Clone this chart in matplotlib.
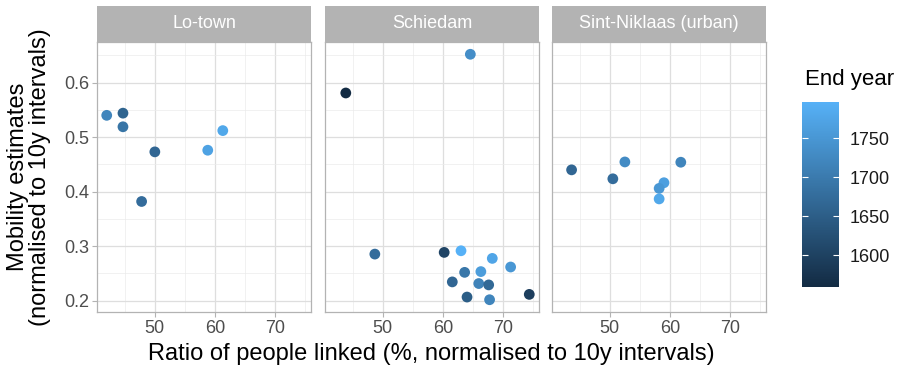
import matplotlib
matplotlib.use("Agg")
import matplotlib.pyplot as plt
import numpy as np
from matplotlib.colors import LinearSegmentedColormap, Normalize
from matplotlib.cm import ScalarMappable

plt.rcParams['font.family'] = ['Liberation Sans', 'DejaVu Sans']

panels = ["Lo-town", "Schiedam", "Sint-Niklaas (urban)"]

lotown_x = [42.0, 44.7, 44.7, 50.0, 47.8, 58.8, 61.3]
lotown_y = [0.540, 0.544, 0.519, 0.473, 0.382, 0.476, 0.512]
lotown_year = [1720, 1660, 1690, 1665, 1675, 1770, 1780]

schiedam_x = [64.55, 43.84, 48.67, 60.2, 63.0, 68.2, 71.25, 63.6, 66.3, 61.55, 65.95, 67.6, 64.0, 67.75, 74.35]
schiedam_y = [0.652, 0.581, 0.2855, 0.2886, 0.2916, 0.2776, 0.2618, 0.252, 0.2534, 0.2345, 0.2315, 0.229, 0.2067, 0.2018, 0.2116]
schiedam_year = [1735, 1560, 1675, 1605, 1797, 1775, 1750, 1695, 1760, 1665, 1715, 1670, 1650, 1720, 1595]

sint_x = [43.64, 50.5, 52.5, 61.8, 59.0, 58.2, 58.2]
sint_y = [0.440, 0.4236, 0.4545, 0.454, 0.4164, 0.406, 0.3867]
sint_year = [1665, 1675, 1730, 1720, 1765, 1750, 1780]

x_ticks = [50, 60, 70]
y_ticks = [0.2, 0.3, 0.4, 0.5, 0.6]
cbar_ticks = [1600, 1650, 1700, 1750]

data = [(lotown_x, lotown_y, lotown_year),
        (schiedam_x, schiedam_y, schiedam_year),
        (sint_x, sint_y, sint_year)]

all_x = lotown_x + schiedam_x + sint_x
all_y = lotown_y + schiedam_y + sint_y
all_year = lotown_year + schiedam_year + sint_year

def expand(v):
    lo, hi = min(v), max(v)
    r = hi - lo
    return lo - 0.05 * r, hi + 0.05 * r

xlim = expand(all_x)
ylim = expand(all_y)

cmap = LinearSegmentedColormap.from_list("gg", ["#132B43", "#56B1F7"])
norm = Normalize(vmin=min(all_year), vmax=max(all_year))

W, H = 901, 373
fig = plt.figure(figsize=(W / 100, H / 100), dpi=100)

panel_left = [97, 325, 552]
pw = 214
ptop, pbot = 42, 312
strip_top = 6

grey70 = "#B3B3B3"
for i, (name, (xs, ys, yrs)) in enumerate(zip(panels, data)):
    ax = fig.add_axes([panel_left[i] / W, 1 - pbot / H, pw / W, (pbot - ptop) / H])
    ax.set_xlim(xlim)
    ax.set_ylim(ylim)
    ax.set_xticks(x_ticks)
    ax.set_yticks(y_ticks)
    ax.set_xticks([45, 55, 65, 75], minor=True)
    ax.set_yticks([0.25, 0.35, 0.45, 0.55, 0.65], minor=True)
    ax.grid(True, which='major', color="#DEDEDE", linewidth=0.9)
    ax.grid(True, which='minor', color="#EBEBEB", linewidth=0.5)
    ax.set_axisbelow(True)
    for s in ax.spines.values():
        s.set_color(grey70)
        s.set_linewidth(0.9)
    ax.tick_params(which='major', color=grey70, length=3.5, width=0.8,
                   labelsize=13, labelcolor="#4D4D4D", pad=2)
    ax.tick_params(which='minor', length=0)
    ax.set_xticklabels([str(t) for t in x_ticks])
    if i == 0:
        ax.set_yticklabels([f"{t:.1f}" for t in y_ticks])
    else:
        ax.tick_params(axis='y', which='both', left=False, labelleft=False)
    ax.scatter(xs, ys, c=yrs, cmap=cmap, norm=norm, s=60, linewidths=0, zorder=3)

    sax = fig.add_axes([panel_left[i] / W, 1 - ptop / H, pw / W, (ptop - strip_top) / H])
    sax.set_facecolor(grey70)
    sax.set_xticks([]); sax.set_yticks([])
    for s in sax.spines.values():
        s.set_visible(False)
    sax.text(0.5, 0.5, name, color="white", fontsize=13, ha='center', va='center',
             transform=sax.transAxes)

fig.text(431.5 / W, 1 - 354 / H, "Ratio of people linked (%, normalised to 10y intervals)",
         ha='center', va='center', fontsize=17)
fig.text(29 / W, 1 - 177 / H, "Mobility estimates\n(normalised to 10y intervals)",
         ha='center', va='center', rotation=90, fontsize=17, multialignment='center',
         linespacing=1.0)

cax = fig.add_axes([802 / W, 1 - 286.7 / H, 37 / W, 185 / H])
sm = ScalarMappable(norm=norm, cmap=cmap)
cb = fig.colorbar(sm, cax=cax, ticks=cbar_ticks)
cb.outline.set_visible(False)
cax.tick_params(color="white", direction='in', length=4, width=0.8, left=True, right=True,
                labelsize=13, labelcolor="#1A1A1A", pad=8)
fig.text(805 / W, 1 - 80 / H, "End year", ha='left', va='center', fontsize=16)

fig.savefig("out.png", dpi=100)
